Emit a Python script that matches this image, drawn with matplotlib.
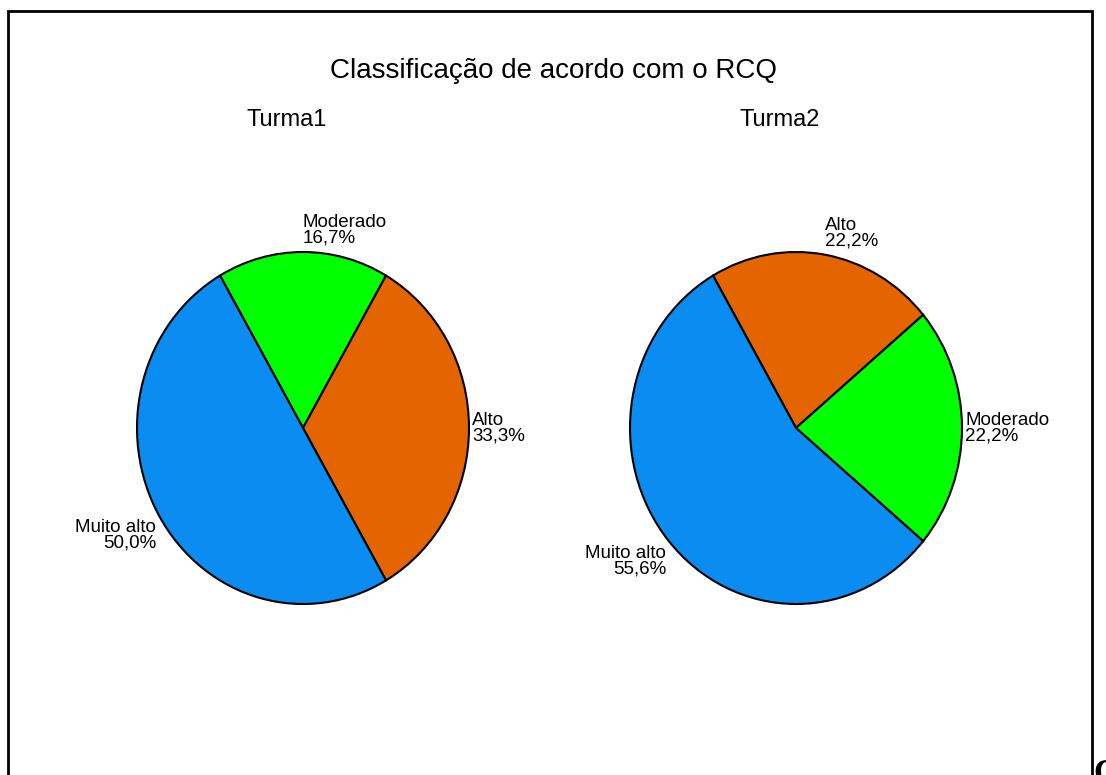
import numpy as np
import matplotlib.pyplot as plt
from matplotlib.patches import Rectangle

plt.rcParams['font.family'] = ['Liberation Sans', 'DejaVu Sans']

title = 'Classificação de acordo com o RCQ'
groups = ['Turma1', 'Turma2']
labels_t1 = ['Moderado', 'Alto', 'Muito alto']
counts_t1 = [1, 2, 3]
labels_t2 = ['Alto', 'Moderado', 'Muito alto']
counts_t2 = [2, 2, 5]
cat_colors = {'Alto': '#E46400', 'Moderado': '#00FF00', 'Muito alto': '#0A8CF0'}

W, H = 1106, 775
fig = plt.figure(figsize=(W / 100, H / 100), dpi=100)

# border box (bottom edge falls outside the image)
fig.patches.append(Rectangle((8 / W, -0.05), 1084 / W, 1.05 - 11 / H,
                             transform=fig.transFigure, fill=False,
                             edgecolor='black', linewidth=2, clip_on=False))
fig.text(1093 / W, -14 / H, 'C', fontsize=24, fontweight='bold',
         family='Liberation Serif', ha='left', va='bottom')

fig.text(0.5, 1 - 71 / H, title, fontsize=20, ha='center', va='center')


def draw_pie(cx, name, labels, counts):
    rx, ry = 166, 176
    ax = fig.add_axes([(cx - rx) / W, (H - 428 - ry) / H, 2 * rx / W, 2 * ry / H])
    wedges, _ = ax.pie(counts, colors=[cat_colors[l] for l in labels],
                       startangle=120, counterclock=False, radius=1,
                       wedgeprops=dict(edgecolor='black', linewidth=1.5))
    ax.set_aspect('auto')
    ax.set_xlim(-1, 1)
    ax.set_ylim(-1, 1)
    ax.axis('off')
    total = sum(counts)
    for w, lab, c in zip(wedges, labels, counts):
        mid = np.deg2rad((w.theta1 + w.theta2) / 2)
        cs, sn = np.cos(mid), np.sin(mid)
        ha = 'left' if cs >= -0.01 else 'right'
        if sn > 0.5:
            va = 'bottom'
        elif sn < -0.4:
            va = 'top'
        else:
            va = 'center'
        pct = f'{100 * c / total:.1f}%'.replace('.', ',')
        ax.text(1.02 * cs, 1.03 * sn, f'{lab}\n{pct}', ha=ha, va=va,
                multialignment=ha, fontsize=13.5, linespacing=0.9, clip_on=False)
    fig.text((cx - 16) / W, 1 - 120 / H, name, fontsize=17, ha='center', va='center')


draw_pie(303, groups[0], labels_t1, counts_t1)
draw_pie(796, groups[1], labels_t2, counts_t2)

fig.savefig('out.png', dpi=100)
